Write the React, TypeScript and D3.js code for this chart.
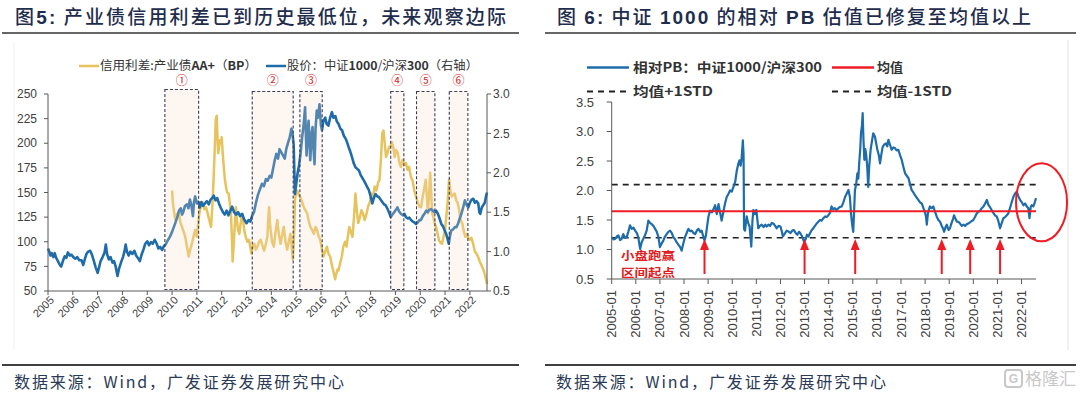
import React from 'react';
import * as d3 from 'd3';

// ---------- DATA ----------
const sourceText = '数据来源：Wind，广发证券发展研究中心';

const leftYearLabels = ['2005','2006','2007','2008','2009','2010','2011','2012','2013','2014','2015','2016','2017','2018','2019','2020','2021','2022'];
const leftAxisTicks = [50, 75, 100, 125, 150, 175, 200, 225, 250];
const rightAxisTicks = [0.5, 1.0, 1.5, 2.0, 2.5, 3.0];
const pbAxisTicks = [0.5, 1.0, 1.5, 2.0, 2.5, 3.0, 3.5];
const pbDateLabels = ['2005-01','2006-01','2007-01','2008-01','2009-01','2010-01','2011-01','2012-01','2013-01','2014-01','2015-01','2016-01','2017-01','2018-01','2019-01','2020-01','2021-01','2022-01'];

// shaded windows (decimal years)
const windowStarts = [2009.71, 2013.23, 2015.15, 2018.81, 2019.85, 2021.17];
const windowEnds = [2011.07, 2014.88, 2016.05, 2019.34, 2020.59, 2021.92];
const windowMarks = ['①', '②', '③', '④', '⑤', '⑥'];

// 中证1000/沪深300 (right axis)
const ratioSeries: [number, number][] = [
  [2005.00,1.04],[2005.05,1.00],[2005.10,0.95],[2005.15,0.98],[2005.22,0.93],[2005.27,0.98],[2005.33,0.92],[2005.40,0.88],[2005.46,0.84],[2005.53,0.81],
  [2005.60,0.88],[2005.67,0.94],[2005.74,0.92],[2005.80,0.99],[2005.88,0.95],[2005.95,0.96],[2006.02,0.93],[2006.10,0.91],[2006.18,0.93],[2006.26,0.89],
  [2006.35,0.89],[2006.42,0.83],[2006.48,0.90],[2006.55,0.97],[2006.62,1.00],[2006.70,1.01],[2006.76,0.97],[2006.85,0.88],[2006.92,0.80],[2007.00,0.73],
  [2007.05,0.79],[2007.12,0.88],[2007.20,0.93],[2007.28,0.99],[2007.33,1.09],[2007.38,0.97],[2007.45,0.90],[2007.52,0.93],[2007.60,0.86],[2007.66,0.88],
  [2007.72,0.82],[2007.80,0.69],[2007.86,0.78],[2007.95,0.87],[2008.02,0.93],[2008.08,1.00],[2008.13,1.09],[2008.18,1.00],[2008.25,0.95],[2008.32,1.00],
  [2008.40,0.97],[2008.48,1.01],[2008.55,0.95],[2008.62,0.92],[2008.70,0.88],[2008.77,0.96],[2008.85,1.03],[2008.92,1.10],[2009.00,1.13],[2009.07,1.08],
  [2009.15,1.12],[2009.22,1.10],[2009.30,1.15],[2009.38,1.10],[2009.45,1.04],[2009.52,1.06],[2009.60,1.02],[2009.67,1.07],[2009.74,1.09],[2009.82,1.14],
  [2009.90,1.18],[2010.00,1.25],[2010.08,1.32],[2010.15,1.38],[2010.22,1.45],[2010.28,1.52],[2010.35,1.55],[2010.40,1.47],[2010.45,1.50],[2010.52,1.58],
  [2010.60,1.60],[2010.66,1.55],[2010.72,1.66],[2010.78,1.58],[2010.84,1.45],[2010.88,1.62],[2010.93,1.70],[2011.00,1.61],[2011.06,1.63],[2011.12,1.56],
  [2011.18,1.63],[2011.25,1.58],[2011.32,1.61],[2011.40,1.64],[2011.48,1.60],[2011.55,1.66],[2011.62,1.68],[2011.68,1.71],[2011.75,1.65],[2011.82,1.68],
  [2011.90,1.60],[2011.97,1.55],[2012.05,1.50],[2012.12,1.47],[2012.20,1.52],[2012.27,1.46],[2012.35,1.52],[2012.42,1.57],[2012.50,1.50],[2012.58,1.47],
  [2012.66,1.50],[2012.74,1.45],[2012.82,1.48],[2012.90,1.41],[2013.00,1.36],[2013.08,1.40],[2013.15,1.38],[2013.22,1.45],[2013.30,1.50],[2013.38,1.62],
  [2013.46,1.72],[2013.55,1.80],[2013.62,1.86],[2013.70,1.83],[2013.78,1.92],[2013.85,1.90],[2013.93,1.96],[2014.00,1.94],[2014.07,2.05],[2014.13,2.15],
  [2014.20,2.24],[2014.27,2.18],[2014.33,2.30],[2014.40,2.26],[2014.47,2.22],[2014.54,2.18],[2014.60,2.30],[2014.68,2.39],[2014.74,2.45],[2014.81,2.56],
  [2014.86,2.47],[2014.90,2.35],[2014.95,1.73],[2015.00,1.85],[2015.06,2.00],[2015.12,2.10],[2015.18,2.25],[2015.24,2.45],[2015.30,2.60],[2015.36,2.83],
  [2015.40,2.40],[2015.42,2.22],[2015.46,2.50],[2015.50,2.66],[2015.54,2.35],[2015.57,2.16],[2015.62,2.50],[2015.66,2.58],[2015.70,2.30],[2015.74,2.11],
  [2015.78,2.55],[2015.83,2.79],[2015.88,2.70],[2015.94,2.87],[2016.00,2.60],[2016.04,2.54],[2016.10,2.66],[2016.17,2.70],[2016.23,2.62],[2016.30,2.60],
  [2016.37,2.70],[2016.44,2.77],[2016.50,2.70],[2016.58,2.72],[2016.64,2.65],[2016.71,2.62],[2016.78,2.56],[2016.85,2.54],[2016.92,2.47],[2017.00,2.43],
  [2017.06,2.38],[2017.12,2.32],[2017.18,2.27],[2017.25,2.20],[2017.32,2.12],[2017.39,2.07],[2017.46,2.05],[2017.53,2.03],[2017.60,1.97],[2017.66,1.94],
  [2017.73,1.90],[2017.80,1.86],[2017.86,1.82],[2017.93,1.78],[2018.00,1.70],[2018.07,1.61],[2018.13,1.68],[2018.20,1.73],[2018.27,1.70],[2018.34,1.69],
  [2018.40,1.66],[2018.47,1.63],[2018.54,1.60],[2018.60,1.59],[2018.67,1.55],[2018.74,1.50],[2018.81,1.44],[2018.88,1.47],[2018.95,1.50],[2019.02,1.53],
  [2019.08,1.56],[2019.15,1.51],[2019.22,1.48],[2019.30,1.46],[2019.36,1.48],[2019.42,1.44],[2019.50,1.42],[2019.56,1.43],[2019.63,1.40],[2019.70,1.38],
  [2019.77,1.37],[2019.83,1.35],[2019.90,1.37],[2019.97,1.40],[2020.03,1.40],[2020.10,1.45],[2020.17,1.48],[2020.24,1.52],[2020.30,1.50],[2020.37,1.53],
  [2020.44,1.54],[2020.50,1.52],[2020.58,1.50],[2020.64,1.52],[2020.71,1.48],[2020.78,1.42],[2020.85,1.35],[2020.92,1.32],[2020.98,1.27],[2021.05,1.22],
  [2021.10,1.16],[2021.15,1.10],[2021.20,1.20],[2021.25,1.27],[2021.32,1.28],[2021.39,1.31],[2021.46,1.31],[2021.53,1.36],[2021.60,1.43],[2021.66,1.48],
  [2021.72,1.55],[2021.80,1.65],[2021.86,1.60],[2021.93,1.56],[2022.00,1.62],[2022.07,1.66],[2022.14,1.67],[2022.20,1.62],[2022.27,1.64],[2022.34,1.61],
  [2022.38,1.50],[2022.42,1.48],[2022.48,1.56],[2022.54,1.59],[2022.60,1.62],[2022.65,1.70],[2022.69,1.75],
];

// 信用利差:产业债AA+ (BP), left axis
const spreadSeries: [number, number][] = [
  [2010.00,152],[2010.03,140],[2010.07,132],[2010.13,122],[2010.20,128],[2010.27,130],[2010.33,120],[2010.40,115],[2010.47,110],[2010.53,105],
  [2010.60,95],[2010.67,85],[2010.73,92],[2010.80,98],[2010.87,106],[2010.93,112],[2011.00,105],[2011.05,118],[2011.10,129],[2011.17,138],
  [2011.24,140],[2011.30,133],[2011.37,135],[2011.44,128],[2011.50,122],[2011.57,115],[2011.62,135],[2011.67,162],[2011.72,195],[2011.76,224],
  [2011.80,228],[2011.83,205],[2011.86,190],[2011.90,198],[2011.93,203],[2011.97,200],[2012.00,206],[2012.04,190],[2012.07,180],[2012.12,165],
  [2012.17,156],[2012.22,150],[2012.28,149],[2012.33,138],[2012.37,129],[2012.41,105],[2012.44,80],[2012.47,92],[2012.50,105],[2012.54,122],
  [2012.57,135],[2012.62,120],[2012.66,112],[2012.71,108],[2012.76,118],[2012.80,125],[2012.84,128],[2012.88,118],[2012.92,110],[2012.97,105],
  [2013.03,100],[2013.10,102],[2013.15,95],[2013.20,88],[2013.25,95],[2013.31,98],[2013.37,92],[2013.44,95],[2013.50,100],[2013.57,102],
  [2013.64,96],[2013.71,91],[2013.78,98],[2013.84,105],[2013.88,125],[2013.91,135],[2013.94,120],[2013.97,112],[2014.03,100],[2014.10,95],
  [2014.17,110],[2014.24,122],[2014.30,108],[2014.37,98],[2014.43,106],[2014.50,115],[2014.57,100],[2014.64,92],[2014.70,100],[2014.77,108],
  [2014.82,95],[2014.87,82],[2014.92,110],[2014.95,142],[2015.00,150],[2015.04,152],[2015.10,148],[2015.17,145],[2015.24,140],[2015.31,135],
  [2015.37,132],[2015.44,129],[2015.50,122],[2015.57,115],[2015.64,112],[2015.71,108],[2015.78,115],[2015.84,112],[2015.90,106],[2015.97,102],
  [2016.04,92],[2016.10,85],[2016.17,90],[2016.24,95],[2016.30,88],[2016.37,85],[2016.44,76],[2016.50,70],[2016.57,62],[2016.62,68],
  [2016.67,72],[2016.71,71],[2016.77,78],[2016.84,85],[2016.90,95],[2016.97,100],[2017.03,95],[2017.08,105],[2017.14,115],[2017.20,110],
  [2017.27,105],[2017.33,125],[2017.39,149],[2017.45,130],[2017.50,119],[2017.57,125],[2017.63,132],[2017.70,128],[2017.76,122],[2017.83,128],
  [2017.90,136],[2017.97,140],[2018.03,149],[2018.10,145],[2018.16,156],[2018.23,152],[2018.30,160],[2018.36,163],[2018.42,185],[2018.47,210],
  [2018.52,213],[2018.57,200],[2018.62,186],[2018.68,190],[2018.74,196],[2018.81,197],[2018.86,201],[2018.92,195],[2018.97,186],[2019.03,193],
  [2019.10,190],[2019.16,180],[2019.22,176],[2019.29,183],[2019.35,178],[2019.42,180],[2019.49,173],[2019.55,176],[2019.62,166],[2019.69,162],
  [2019.76,152],[2019.83,146],[2019.90,140],[2019.96,136],[2020.03,135],[2020.10,146],[2020.17,155],[2020.22,163],[2020.27,145],[2020.31,129],
  [2020.36,150],[2020.40,170],[2020.44,150],[2020.48,129],[2020.53,125],[2020.59,118],[2020.64,115],[2020.70,108],[2020.76,101],[2020.82,99],
  [2020.88,98],[2020.94,105],[2021.00,112],[2021.06,128],[2021.12,145],[2021.16,163],[2021.22,150],[2021.28,146],[2021.34,148],[2021.39,149],
  [2021.45,142],[2021.50,140],[2021.57,132],[2021.63,122],[2021.70,118],[2021.76,110],[2021.82,105],[2021.88,108],[2021.93,104],[2021.99,102],
  [2022.06,104],[2022.13,98],[2022.20,90],[2022.27,88],[2022.34,84],[2022.40,80],[2022.47,76],[2022.54,72],[2022.60,67],[2022.65,62],[2022.69,57],
];

// 相对PB: 中证1000/沪深300
const pbSeries: [number, number][] = [
  [2005.00,1.21],[2005.07,1.17],[2005.14,1.18],[2005.21,1.22],[2005.28,1.24],[2005.35,1.16],[2005.41,1.18],[2005.48,1.26],[2005.55,1.20],[2005.62,1.21],
  [2005.69,1.30],[2005.76,1.41],[2005.83,1.35],[2005.90,1.37],[2005.97,1.32],[2006.04,1.28],[2006.10,1.21],[2006.18,1.01],[2006.24,1.12],[2006.31,1.18],
  [2006.38,1.24],[2006.45,1.32],[2006.52,1.49],[2006.59,1.45],[2006.66,1.43],[2006.73,1.40],[2006.80,1.35],[2006.87,1.30],[2006.94,1.21],[2007.00,1.04],
  [2007.07,1.10],[2007.14,1.15],[2007.21,1.22],[2007.28,1.26],[2007.35,1.30],[2007.42,1.32],[2007.49,1.28],[2007.56,1.21],[2007.63,1.17],[2007.70,1.12],
  [2007.77,1.08],[2007.84,1.04],[2007.90,0.98],[2007.97,1.10],[2008.04,1.21],[2008.11,1.28],[2008.18,1.35],[2008.25,1.31],[2008.32,1.32],[2008.39,1.28],
  [2008.46,1.26],[2008.53,1.32],[2008.60,1.35],[2008.67,1.30],[2008.73,1.32],[2008.80,1.22],[2008.85,1.15],[2008.91,1.24],[2008.96,1.40],[2009.01,1.55],
  [2009.08,1.66],[2009.15,1.63],[2009.22,1.68],[2009.29,1.75],[2009.36,1.60],[2009.43,1.77],[2009.50,1.62],[2009.56,1.49],[2009.63,1.63],[2009.70,1.78],
  [2009.77,1.89],[2009.84,1.94],[2009.91,2.00],[2009.98,1.98],[2010.05,2.06],[2010.12,2.14],[2010.19,2.34],[2010.25,2.45],[2010.30,2.51],[2010.35,2.42],
  [2010.39,2.55],[2010.44,2.85],[2010.47,2.60],[2010.49,1.35],[2010.53,1.32],[2010.60,1.56],[2010.66,1.45],[2010.72,1.39],[2010.79,1.05],[2010.84,1.50],
  [2010.88,1.67],[2010.94,1.60],[2011.00,1.67],[2011.08,1.36],[2011.15,1.40],[2011.22,1.42],[2011.30,1.38],[2011.37,1.42],[2011.43,1.39],[2011.50,1.42],
  [2011.57,1.40],[2011.64,1.45],[2011.71,1.44],[2011.78,1.40],[2011.84,1.36],[2011.92,1.40],[2012.00,1.39],[2012.06,1.30],[2012.10,1.22],[2012.18,1.27],
  [2012.26,1.32],[2012.35,1.30],[2012.42,1.28],[2012.49,1.32],[2012.56,1.33],[2012.63,1.28],[2012.70,1.25],[2012.77,1.30],[2012.83,1.27],[2012.90,1.22],
  [2012.98,1.13],[2013.05,1.18],[2013.10,1.25],[2013.16,1.22],[2013.23,1.28],[2013.30,1.33],[2013.36,1.36],[2013.43,1.40],[2013.50,1.44],[2013.57,1.47],
  [2013.64,1.50],[2013.71,1.49],[2013.78,1.53],[2013.85,1.56],[2013.92,1.55],[2013.99,1.58],[2014.05,1.62],[2014.12,1.73],[2014.19,1.68],[2014.26,1.70],
  [2014.33,1.67],[2014.40,1.70],[2014.47,1.72],[2014.54,1.73],[2014.61,1.80],[2014.68,1.89],[2014.75,1.95],[2014.82,2.01],[2014.88,1.89],[2014.93,1.60],
  [2014.98,1.40],[2015.02,1.30],[2015.06,1.70],[2015.09,2.01],[2015.14,2.10],[2015.19,2.29],[2015.23,2.20],[2015.27,2.49],[2015.31,2.70],[2015.34,2.97],
  [2015.38,3.10],[2015.41,3.31],[2015.44,2.90],[2015.48,2.52],[2015.52,2.70],[2015.55,2.63],[2015.60,2.40],[2015.64,2.06],[2015.68,2.40],[2015.74,2.69],
  [2015.80,2.85],[2015.85,2.97],[2015.92,2.91],[2015.97,2.80],[2016.02,2.69],[2016.08,2.60],[2016.13,2.46],[2016.18,2.60],[2016.24,2.74],[2016.31,2.78],
  [2016.38,2.80],[2016.43,2.75],[2016.48,2.86],[2016.54,2.78],[2016.61,2.69],[2016.68,2.73],[2016.75,2.72],[2016.82,2.68],[2016.89,2.69],[2016.96,2.60],
  [2017.03,2.52],[2017.10,2.40],[2017.17,2.29],[2017.24,2.25],[2017.31,2.21],[2017.38,2.10],[2017.44,2.01],[2017.51,1.97],[2017.58,1.92],[2017.65,1.88],
  [2017.72,1.84],[2017.79,1.80],[2017.86,1.78],[2017.93,1.70],[2017.99,1.64],[2018.04,1.55],[2018.07,1.42],[2018.12,1.62],[2018.20,1.73],[2018.27,1.70],
  [2018.34,1.73],[2018.41,1.64],[2018.48,1.56],[2018.55,1.50],[2018.62,1.47],[2018.69,1.40],[2018.75,1.35],[2018.79,1.30],[2018.85,1.38],[2018.90,1.42],
  [2018.97,1.33],[2019.03,1.36],[2019.10,1.45],[2019.16,1.52],[2019.20,1.58],[2019.26,1.52],[2019.32,1.47],[2019.38,1.47],[2019.45,1.44],[2019.52,1.40],
  [2019.59,1.42],[2019.66,1.40],[2019.73,1.43],[2019.79,1.44],[2019.86,1.46],[2019.93,1.48],[2020.00,1.50],[2020.07,1.55],[2020.14,1.61],[2020.21,1.64],
  [2020.28,1.66],[2020.35,1.70],[2020.42,1.73],[2020.49,1.78],[2020.56,1.84],[2020.62,1.76],[2020.69,1.72],[2020.76,1.67],[2020.83,1.62],[2020.90,1.58],
  [2020.97,1.56],[2021.04,1.48],[2021.11,1.36],[2021.18,1.45],[2021.25,1.53],[2021.32,1.55],[2021.39,1.58],[2021.45,1.61],[2021.52,1.70],[2021.59,1.80],
  [2021.66,1.89],[2021.73,1.95],[2021.80,1.98],[2021.87,1.90],[2021.94,1.84],[2022.01,1.80],[2022.08,1.75],[2022.15,1.78],[2022.22,1.73],[2022.28,1.70],
  [2022.33,1.53],[2022.38,1.72],[2022.42,1.75],[2022.49,1.73],[2022.55,1.80],[2022.60,1.87],
];

const pbMean = 1.65;
const pbStd = 0.45;
const arrowDates = [2008.85, 2013.0, 2015.1, 2018.69, 2019.87, 2021.11];

// ---------- STYLE ----------
const BLUE = '#1F6CAB';
const GOLD = '#E6C35C';
const RED = '#EE1C25';
const AXIS = '#595959';
const TXT = '#404040';
const NAVY = '#1F2D4D';
const NUM_FONT = '"Liberation Sans", Arial, "Noto Sans CJK SC", sans-serif';
const CJK_FONT = '"Noto Sans CJK SC", "Liberation Sans", sans-serif';

export default function App() {
  // Left chart scales
  const xL = d3.scaleLinear().domain([2005, 2022.69]).range([48, 487]);
  const yL = d3.scaleLinear().domain([50, 250]).range([291, 94]);
  const yR = d3.scaleLinear().domain([0.5, 3.0]).range([291, 94]);
  // Right chart scales
  const xP = d3.scaleLinear().domain([2005, 2022.6]).range([611.7, 1036]);
  const yP = d3.scaleLinear().domain([0.5, 3.5]).range([279, 102]);

  const ratioLine = d3.line<[number, number]>().x(d => xL(d[0])).y(d => yR(d[1]));
  const spreadLine = d3.line<[number, number]>().x(d => xL(d[0])).y(d => yL(d[1]));
  const pbLine = d3.line<[number, number]>().x(d => xP(d[0])).y(d => yP(d[1]));

  const [lx0, lx1] = xL.range();
  const [px0, px1] = xP.range();

  return (
    <svg width={1080} height={393} viewBox="0 0 1080 393"
      style={{ position: 'absolute', left: 0, top: 0, background: '#fff' }}>
      <rect x={0} y={0} width={1080} height={393} fill="#fff" />

      {/* ===== Titles ===== */}
      <text x={15} y={24} fontFamily={CJK_FONT} fontSize={19} fontWeight={500} fill={NAVY}
        textLength={491} lengthAdjust="spacing">
        图<tspan fontFamily={NUM_FONT} fontWeight="bold">5:</tspan> 产业债信用利差已到历史最低位，未来观察边际
      </text>
      <line x1={2} x2={519} y1={33} y2={33} stroke="#333" strokeWidth={1.5} />
      <text x={557} y={24} fontFamily={CJK_FONT} fontSize={19} fontWeight={500} fill={NAVY}
        textLength={474} lengthAdjust="spacing">
        图 <tspan fontFamily={NUM_FONT} fontWeight="bold">6:</tspan> 中证 <tspan fontFamily={NUM_FONT} fontWeight="bold">1000</tspan> 的相对 <tspan fontFamily={NUM_FONT} fontWeight="bold">PB</tspan> 估值已修复至均值以上
      </text>
      <line x1={545} x2={1076} y1={33} y2={33} stroke="#333" strokeWidth={1.5} />

      {/* frames */}
      <line x1={14} x2={14} y1={42} y2={350} stroke="#F2F2F2" strokeWidth={1} />
      <line x1={1068} x2={1068} y1={40} y2={350} stroke="#E2E2E2" strokeWidth={1} />

      {/* ===== LEFT CHART ===== */}
      {/* legend */}
      <line x1={79} x2={99} y1={66} y2={66} stroke={GOLD} strokeWidth={2.5} />
      <text x={100} y={70} fontFamily={CJK_FONT} fontSize={12} fill="#333"
        textLength={157} lengthAdjust="spacingAndGlyphs">信用利差:产业债<tspan fontWeight="bold">AA+</tspan>（<tspan fontWeight="bold">BP</tspan>）</text>
      <line x1={266} x2={286} y1={66} y2={66} stroke={BLUE} strokeWidth={2.5} />
      <text x={287} y={70} fontFamily={CJK_FONT} fontSize={12} fill="#333"
        textLength={191} lengthAdjust="spacingAndGlyphs">股价：中证<tspan fontWeight="bold">1000</tspan>/沪深<tspan fontWeight="bold">300</tspan>（右轴）</text>

      {/* lines */}
      <path d={spreadLine(spreadSeries) || ''} fill="none" stroke={GOLD} strokeWidth={2.5} strokeLinejoin="round" />
      <path d={ratioLine(ratioSeries) || ''} fill="none" stroke={BLUE} strokeWidth={2.6} strokeLinejoin="round" />

      {/* shaded windows */}
      {windowStarts.map((s, i) => {
        const x0 = xL(s), x1 = xL(windowEnds[i]);
        const top = i === 0 ? 89.5 : 91.5;
        return (
          <g key={'w' + i}>
            <rect x={x0} y={top} width={x1 - x0} height={289.5 - top}
              fill="#F7D9C4" fillOpacity={0.24} stroke="#3B3B5C" strokeWidth={1.1}
              strokeDasharray="3,2" />
            <text x={(x0 + x1) / 2} y={81} dy="0.35em" textAnchor="middle"
              fontFamily={CJK_FONT} fontSize={12} fill="#D22B2B">{windowMarks[i]}</text>
          </g>
        );
      })}

      {/* axes */}
      <line x1={lx0} x2={lx0} y1={94} y2={291} stroke={AXIS} />
      <line x1={lx1} x2={lx1} y1={94} y2={291} stroke={AXIS} />
      <line x1={lx0} x2={lx1} y1={291} y2={291} stroke={AXIS} />
      {leftAxisTicks.map(t => (
        <g key={'lt' + t}>
          <line x1={lx0 - 4} x2={lx0} y1={yL(t)} y2={yL(t)} stroke={AXIS} />
          <text x={37} y={yL(t)} dy="0.35em" textAnchor="end" fontFamily={NUM_FONT}
            fontSize={12} fill={TXT}>{t}</text>
        </g>
      ))}
      {rightAxisTicks.map(t => (
        <g key={'rt' + t}>
          <line x1={lx1} x2={lx1 + 4} y1={yR(t)} y2={yR(t)} stroke={AXIS} />
          <text x={493} y={yR(t)} dy="0.35em" textAnchor="start" fontFamily={NUM_FONT}
            fontSize={12} fill={TXT}>{t.toFixed(1)}</text>
        </g>
      ))}
      {leftYearLabels.map(lbl => {
        const x = xL(+lbl);
        return (
          <g key={'yl' + lbl}>
            <line x1={x} x2={x} y1={291} y2={295} stroke={AXIS} />
            <text transform={`translate(${x + 4},${298}) rotate(-45)`} textAnchor="end"
              dy="0.35em" fontFamily={NUM_FONT} fontSize={11} fill={TXT}>{lbl}</text>
          </g>
        );
      })}

      {/* ===== RIGHT CHART ===== */}
      {/* legend */}
      <line x1={587} x2={629} y1={67.5} y2={67.5} stroke={BLUE} strokeWidth={2.5} />
      <text x={633} y={72} fontFamily={CJK_FONT} fontSize={13} fontWeight="bold" fill="#333"
        textLength={189} lengthAdjust="spacingAndGlyphs">相对PB：中证1000/沪深300</text>
      <line x1={832} x2={874} y1={67.5} y2={67.5} stroke={RED} strokeWidth={2.5} />
      <text x={877} y={72} fontFamily={CJK_FONT} fontSize={13} fontWeight="bold" fill="#333">均值</text>
      <line x1={587} x2={629} y1={91.5} y2={91.5} stroke="#222" strokeWidth={1.8} strokeDasharray="6,5" />
      <text x={633} y={96} fontFamily={CJK_FONT} fontSize={13} fontWeight="bold" fill="#333"
        textLength={80} lengthAdjust="spacingAndGlyphs">均值+1STD</text>
      <line x1={832} x2={874} y1={91.5} y2={91.5} stroke="#222" strokeWidth={1.8} strokeDasharray="6,5" />
      <text x={877} y={96} fontFamily={CJK_FONT} fontSize={13} fontWeight="bold" fill="#333"
        textLength={75} lengthAdjust="spacingAndGlyphs">均值-1STD</text>

      {/* reference lines */}
      <line x1={px0} x2={px1} y1={yP(pbMean + pbStd)} y2={yP(pbMean + pbStd)} stroke="#222" strokeWidth={1.6} strokeDasharray="6,5" />
      <line x1={px0} x2={px1} y1={yP(pbMean - pbStd)} y2={yP(pbMean - pbStd)} stroke="#222" strokeWidth={1.6} strokeDasharray="6,5" />

      <path d={pbLine(pbSeries) || ''} fill="none" stroke={BLUE} strokeWidth={2.2} strokeLinejoin="round" />
      <line x1={px0} x2={px1} y1={yP(pbMean)} y2={yP(pbMean)} stroke={RED} strokeWidth={2} />

      {/* arrows */}
      {arrowDates.map((d, i) => {
        const x = xP(d);
        return (
          <g key={'ar' + i}>
            <line x1={x} x2={x} y1={274} y2={249} stroke={RED} strokeWidth={2} />
            <path d={`M${x},${239} L${x - 4.5},${250} L${x + 4.5},${250} Z`} fill={RED} />
          </g>
        );
      })}
      <text x={621} y={260} fontFamily={CJK_FONT} fontSize={11.5} fontWeight="bold" fill="#E02020"
        textLength={54} lengthAdjust="spacingAndGlyphs">小盘跑赢</text>
      <text x={621} y={277} fontFamily={CJK_FONT} fontSize={11.5} fontWeight="bold" fill="#E02020"
        textLength={54} lengthAdjust="spacingAndGlyphs">区间起点</text>

      {/* highlight ellipse */}
      <ellipse cx={xP(2022.83)} cy={yP(1.8)} rx={25.5} ry={39} fill="none" stroke={RED} strokeWidth={2} />

      {/* axes */}
      <line x1={px0} x2={px0} y1={102} y2={279} stroke={AXIS} />
      <line x1={px0} x2={px1} y1={279} y2={279} stroke={AXIS} />
      {pbAxisTicks.map(t => (
        <g key={'pt' + t}>
          <line x1={px0 - 5} x2={px0} y1={yP(t)} y2={yP(t)} stroke={AXIS} />
          <text x={594} y={yP(t)} dy="0.35em" textAnchor="end" fontFamily={NUM_FONT}
            fontSize={13} fill={TXT}>{t.toFixed(1)}</text>
        </g>
      ))}
      {pbDateLabels.map(lbl => {
        const x = xP(+lbl.slice(0, 4));
        return (
          <g key={'pd' + lbl}>
            <line x1={x} x2={x} y1={279} y2={284} stroke={AXIS} />
            <text transform={`translate(${x},${290}) rotate(-90)`} textAnchor="end"
              dy="0.35em" fontFamily={NUM_FONT} fontSize={13} fill={TXT}>{lbl}</text>
          </g>
        );
      })}

      {/* ===== Footers ===== */}
      <line x1={2} x2={519} y1={365} y2={365} stroke="#404040" strokeWidth={2} />
      <text x={14} y={388} fontFamily={CJK_FONT} fontSize={16} fill="#2B3A55"
        textLength={330} lengthAdjust="spacing">{sourceText}</text>
      <line x1={545} x2={1076} y1={365} y2={365} stroke="#404040" strokeWidth={2} />
      <text x={556} y={388} fontFamily={CJK_FONT} fontSize={16} fill="#2B3A55"
        textLength={330} lengthAdjust="spacing">{sourceText}</text>

      {/* watermark */}
      <rect x={1005} y={370} width={17} height={17} rx={3} fill="none" stroke="#C8C8C8" strokeWidth={2} />
      <text x={1013.5} y={378.5} dy="0.35em" textAnchor="middle" fontFamily={NUM_FONT} fontSize={12} fontWeight="bold" fill="#C8C8C8">G</text>
      <text x={1025} y={385} fontFamily={CJK_FONT} fontSize={17} fill="#C8C8C8">格隆汇</text>
    </svg>
  );
}
